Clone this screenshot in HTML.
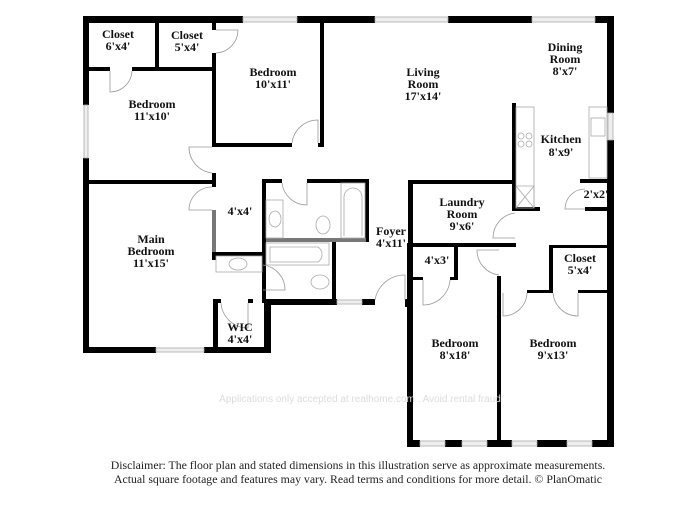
<!DOCTYPE html>
<html><head><meta charset="utf-8"><style>
html,body{margin:0;padding:0;background:#fff;}
svg{display:block;}
.l{font-family:"Liberation Serif",serif;font-weight:bold;font-size:12px;fill:#111;text-anchor:middle;}
.d{fill:none;stroke:#999;stroke-width:0.8;}
.w{fill:#eee;stroke:#aaa;stroke-width:0.8;}
.f{fill:none;stroke:#aaa;stroke-width:0.8;}
</style></head><body>
<svg width="700" height="509" viewBox="0 0 700 509" xmlns="http://www.w3.org/2000/svg">
<g fill="#000">
<rect x="83" y="16" width="160" height="7"/>
<rect x="297" y="16" width="78" height="7"/>
<rect x="448" y="16" width="84" height="7"/>
<rect x="595" y="16" width="19" height="7"/>
<rect x="83" y="16" width="6" height="89"/>
<rect x="83" y="158" width="6" height="195"/>
<rect x="607" y="16" width="7" height="97"/>
<rect x="607" y="140" width="7" height="307"/>
<rect x="155" y="23" width="4" height="47"/>
<rect x="89" y="67" width="21" height="4"/>
<rect x="132" y="67" width="83" height="4"/>
<rect x="212" y="23" width="4" height="7"/>
<rect x="212" y="53" width="4" height="94"/>
<rect x="212" y="143" width="80" height="4"/>
<rect x="318" y="143" width="6" height="4"/>
<rect x="320" y="23" width="4" height="124"/>
<rect x="89" y="180" width="127" height="4"/>
<rect x="212" y="173" width="4" height="14"/>
<rect x="212" y="252" width="4" height="8"/>
<rect x="212" y="252" width="51" height="4"/>
<rect x="262" y="179" width="4" height="124"/>
<rect x="262" y="179" width="20" height="4"/>
<rect x="307" y="179" width="61" height="4"/>
<rect x="365" y="179" width="4" height="63"/>
<rect x="332" y="240" width="4" height="65"/>
<rect x="83" y="347" width="73" height="6"/>
<rect x="204" y="347" width="67" height="6"/>
<rect x="213" y="299" width="5" height="54"/>
<rect x="213" y="299" width="8" height="4"/>
<rect x="248" y="299" width="5" height="4"/>
<rect x="264" y="299" width="7" height="54"/>
<rect x="264" y="299" width="71" height="6"/>
<rect x="331" y="299" width="6" height="6"/>
<rect x="362" y="299" width="13" height="6"/>
<rect x="405" y="299" width="8" height="8"/>
<rect x="408" y="180" width="5" height="67"/>
<rect x="407" y="303" width="6" height="144"/>
<rect x="407" y="247" width="6" height="56"/>
<rect x="408" y="180" width="108" height="4"/>
<rect x="512" y="103" width="4" height="108"/>
<rect x="512" y="207" width="28" height="4"/>
<rect x="407" y="243" width="109" height="4"/>
<rect x="580" y="179" width="28" height="4"/>
<rect x="585" y="207" width="23" height="4"/>
<rect x="454" y="247" width="4" height="33"/>
<rect x="413" y="277" width="10" height="3"/>
<rect x="450" y="277" width="8" height="3"/>
<rect x="497" y="276" width="4" height="171"/>
<rect x="549" y="245" width="65" height="3"/>
<rect x="549" y="245" width="4" height="48"/>
<rect x="527" y="290" width="26" height="3"/>
<rect x="578" y="290" width="36" height="3"/>
<rect x="407" y="440" width="13" height="7"/>
<rect x="445" y="440" width="17" height="7"/>
<rect x="487" y="440" width="25" height="7"/>
<rect x="537" y="440" width="30" height="7"/>
<rect x="592" y="440" width="22" height="7"/>
</g>
<g fill="#777">
<rect x="212" y="210" width="4" height="42"/>
<rect x="266" y="238" width="100" height="4"/>
</g>
<rect class="w" x="243" y="17" width="54" height="5"/>
<rect class="w" x="375" y="17" width="73" height="5"/>
<rect class="w" x="532" y="17" width="63" height="5"/>
<rect class="w" x="84" y="105" width="4" height="53"/>
<rect class="w" x="608" y="113" width="5" height="27"/>
<rect class="w" x="156" y="348" width="48" height="4"/>
<rect class="w" x="337" y="300" width="25" height="4"/>
<rect class="w" x="420" y="441" width="25" height="5"/>
<rect class="w" x="462" y="441" width="25" height="5"/>
<rect class="w" x="512" y="441" width="25" height="5"/>
<rect class="w" x="567" y="441" width="25" height="5"/>
<path class="d" d="M110 71 V92 A22 22 0 0 0 132 71"/>
<path class="d" d="M216 30 H238 A23 23 0 0 1 216 53"/>
<path class="d" d="M318 143 V120 A26 26 0 0 0 292 143"/>
<path class="d" d="M212 147 H189 A26 26 0 0 0 212 173"/>
<path class="d" d="M212 210 H189 A23 23 0 0 1 212 187"/>
<path class="d" d="M307 183 V205 A25 25 0 0 1 282 183"/>
<path class="d" d="M263 290 H285 A25 25 0 0 0 263 265"/>
<path class="d" d="M248 303 V328 A27 27 0 0 1 221 303"/>
<path class="d" d="M405 300 V275 A30 30 0 0 0 375 300"/>
<path class="d" d="M515 238 H493 A25 25 0 0 1 515 213"/>
<path class="d" d="M585 209 H565 A20 20 0 0 1 585 189"/>
<path class="d" d="M499 250 H477 A25 25 0 0 0 499 275"/>
<path class="d" d="M423 280 V305 A27 27 0 0 0 450 280"/>
<path class="d" d="M503 293 V316 A24 24 0 0 0 527 293"/>
<path class="d" d="M578 293 V316 A25 25 0 0 1 553 293"/>
<rect class="f" x="516" y="107" width="18" height="101"/>
<circle class="f" cx="521" cy="136" r="3"/><circle class="f" cx="529" cy="136" r="3"/>
<circle class="f" cx="521" cy="144" r="3"/><circle class="f" cx="529" cy="144" r="3"/>
<path class="f" d="M516 186 H534 V208 M516 186 L534 208 M534 186 L516 208"/>
<rect class="f" x="589" y="107" width="18" height="71"/>
<rect class="f" x="591" y="118" width="14" height="18"/>
<rect class="f" x="266" y="200" width="17" height="38"/>
<ellipse class="f" cx="275" cy="219" rx="6" ry="8"/>
<rect class="f" x="341" y="183" width="24" height="55"/>
<path class="f" d="M344 236 V197 A9 9 0 0 1 362 197 V236"/>
<ellipse class="f" cx="323" cy="225" rx="7" ry="9"/>
<rect class="f" x="266" y="243" width="63" height="22"/>
<path class="f" d="M270 247 H318 A9 9 0 0 1 318 262 H270 Z"/>
<ellipse class="f" cx="320" cy="282" rx="9" ry="7"/>
<rect class="f" x="216" y="256" width="46" height="16"/>
<ellipse class="f" cx="238" cy="264" rx="9" ry="6"/>
<text class="l" x="118" y="38">Closet</text><text class="l" x="118" y="50">6'x4'</text>
<text class="l" x="187" y="39">Closet</text><text class="l" x="187" y="51">5'x4'</text>
<text class="l" x="273" y="76">Bedroom</text><text class="l" x="273" y="88">10'x11'</text>
<text class="l" x="152" y="108">Bedroom</text><text class="l" x="152" y="120">11'x10'</text>
<text class="l" x="423" y="76">Living</text><text class="l" x="423" y="88">Room</text><text class="l" x="423" y="100">17'x14'</text>
<text class="l" x="565" y="51">Dining</text><text class="l" x="565" y="63">Room</text><text class="l" x="565" y="75">8'x7'</text>
<text class="l" x="561" y="143">Kitchen</text><text class="l" x="561" y="156">8'x9'</text>
<text class="l" x="596" y="198">2'x2'</text>
<text class="l" x="462" y="206">Laundry</text><text class="l" x="462" y="218">Room</text><text class="l" x="462" y="230">9'x6'</text>
<text class="l" x="391" y="235">Foyer</text><text class="l" x="391" y="247">4'x11'</text>
<text class="l" x="240" y="215">4'x4'</text>
<text class="l" x="151" y="243">Main</text><text class="l" x="151" y="255">Bedroom</text><text class="l" x="151" y="267">11'x15'</text>
<text class="l" x="437" y="264">4'x3'</text>
<text class="l" x="580" y="262">Closet</text><text class="l" x="580" y="274">5'x4'</text>
<text class="l" x="240" y="331">WIC</text><text class="l" x="240" y="343">4'x4'</text>
<text class="l" x="455" y="347">Bedroom</text><text class="l" x="455" y="359">8'x18'</text>
<text class="l" x="553" y="347">Bedroom</text><text class="l" x="553" y="359">9'x13'</text>
<text x="360" y="402" font-family="Liberation Sans,sans-serif" font-size="10" fill="#ddd" text-anchor="middle">Applications only accepted at realhome.com . Avoid rental fraud</text>
<text x="358" y="469" font-family="Liberation Serif,serif" font-size="11.8" fill="#222" text-anchor="middle">Disclaimer: The floor plan and stated dimensions in this illustration serve as approximate measurements.</text>
<text x="358" y="483" font-family="Liberation Serif,serif" font-size="11.8" fill="#222" text-anchor="middle">Actual square footage and features may vary. Read terms and conditions for more detail. © PlanOmatic</text>
</svg>
</body></html>
